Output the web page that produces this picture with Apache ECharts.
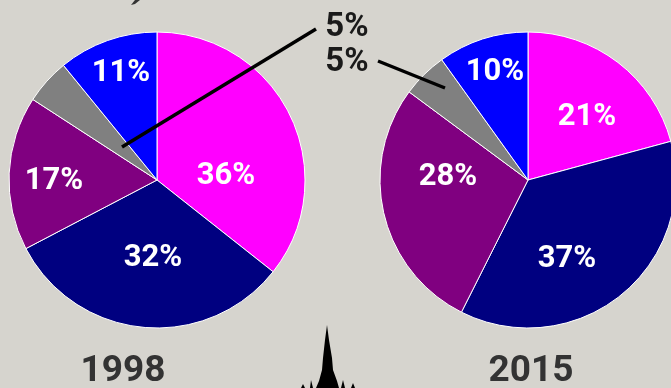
<!DOCTYPE html>
<html><head><meta charset="utf-8">
<style>html,body{margin:0;padding:0;background:#d6d4ce}#c{width:671px;height:388px}</style>
<script src="https://cdn.jsdelivr.net/npm/echarts@6/dist/echarts.min.js"></script>
</head><body><div id="c"></div>
<script>
const categories = ['A','B','C','D','E'];
const values1998 = [36,32,17,5,11];
const values2015 = [21,37,28,5,10];
const years = ['1998','2015'];
const colors = ['#ff00ff','#000080','#800080','#808080','#0000ff'];
const labelPos1998 = [[226,176],[153,258],[54,181],[347,28],[121,73]];
const labelPos2015 = [[587,117],[567,259],[448,177],[347,63],[495,72]];
const FONT = '"Roboto",sans-serif';
const GRAY = 3;

function pie(vals, cx, pos){
  return {
    type:'pie', center:[cx,180], radius:[0,148], startAngle:90, clockwise:true,
    silent:true, animation:false, avoidLabelOverlap:false,
    itemStyle:{borderColor:'#ffffff',borderWidth:1},
    label:{show:true,position:'inside',formatter:'{c}%',color:'#fff',fontFamily:FONT,fontWeight:'bold',fontSize:31},
    labelLine:{show:false},
    labelLayout:p=>({x:pos[p.dataIndex][0],y:pos[p.dataIndex][1],align:'center',verticalAlign:'middle'}),
    data:vals.map((v,i)=>({name:categories[i],value:v,itemStyle:{color:colors[i]},
      label:i===GRAY?{color:'#1a1a1a',fontSize:33}:{}}))
  };
}
const chart = echarts.init(document.getElementById('c'),null,{renderer:'canvas'});
const yearStyle = {fontFamily:FONT,fontWeight:'bold',fontSize:37,fill:'#333',align:'center',verticalAlign:'middle'};
chart.setOption({
  backgroundColor:'#d6d4ce',
  series:[pie(values1998,157,labelPos1998),pie(values2015,528,labelPos2015)],
  graphic:[
    {type:'line',z:50,shape:{x1:316,y1:29,x2:122,y2:147},style:{stroke:'#000',lineWidth:3.5}},
    {type:'line',z:50,shape:{x1:378,y1:61,x2:445,y2:88},style:{stroke:'#000',lineWidth:3.5}},
    {type:'text',z:50,x:123,y:372,style:Object.assign({text:years[0]},yearStyle)},
    {type:'text',z:50,x:531,y:372,style:Object.assign({text:years[1]},yearStyle)},
    {type:'polygon',z:50,shape:{points:[[327,325],[329,340],[332,358],[333,370],[337,381],[339,388],[316,388],[319,381],[322,370],[323,358],[325,340]]},style:{fill:'#000'}},
    {type:'polygon',z:50,shape:{points:[[310,388],[311,380],[313,388]]},style:{fill:'#000'}},
    {type:'polygon',z:50,shape:{points:[[341,388],[343,380],[345,388]]},style:{fill:'#000'}},
    {type:'polygon',z:50,shape:{points:[[351,388],[353,383],[355,388]]},style:{fill:'#000'}},
    {type:'polygon',z:50,shape:{points:[[301,388],[303,384],[305,388]]},style:{fill:'#000'}},
    {type:'polygon',z:50,shape:{points:[[131,5],[135,0],[140,0],[135,4]]},style:{fill:'#333'}}
  ]
});
</script></body></html>
